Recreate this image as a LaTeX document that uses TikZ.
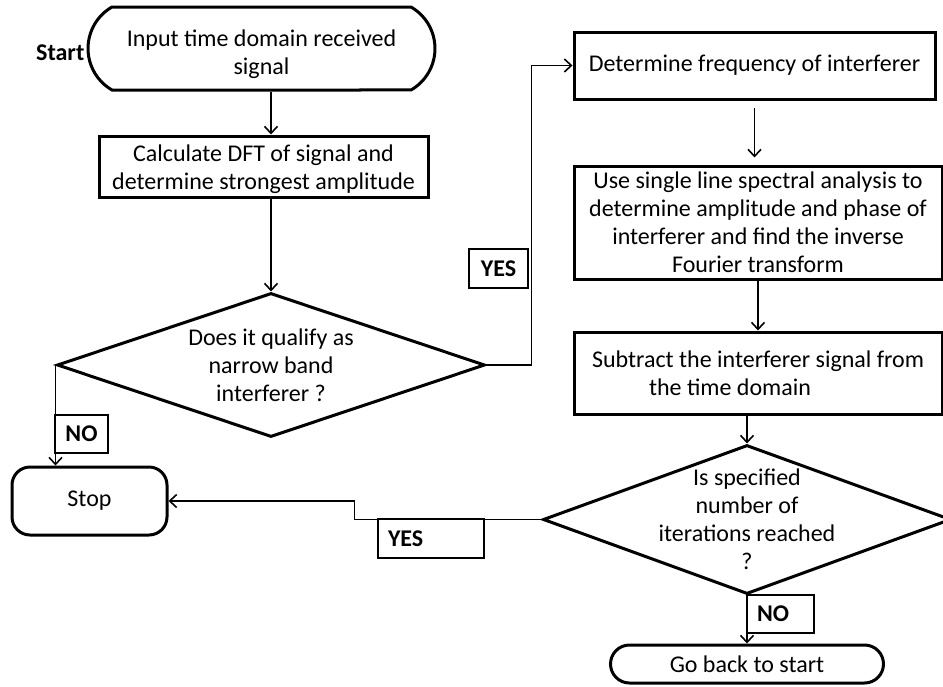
\documentclass[tikz,border=0pt]{standalone}
\usepackage{fontspec}
\setmainfont{Carlito}
\usetikzlibrary{shapes.geometric,shapes.misc,positioning,arrows.meta}

\begin{document}
\begin{tikzpicture}[x=1pt,y=-1pt,
    every node/.style={font=\fontsize{24}{28}\selectfont},
    process/.style={draw,line width=3pt,rectangle,align=center,inner sep=2pt},
    terminal/.style={draw,line width=3pt,rounded rectangle,align=center,inner sep=2pt},
    decision/.style={draw,line width=3pt,diamond,inner sep=0pt},
    answer/.style={draw,line width=1.6pt,rectangle,font=\fontsize{24}{28}\selectfont\bfseries,minimum height=39pt,inner sep=0pt},
    flow/.style={line width=1.6pt,-{Straight Barb[length=7pt,width=13pt]}}]
    \useasboundingbox (0,0) rectangle (943,686);
    \node [terminal,rounded rectangle arc length=120,minimum width=351pt,minimum height=83pt,label={[align=center,yshift=-6pt]center:Input time domain received\\signal}] (start) at (261.5,48.5) {};
    \node [font=\fontsize{24}{28}\selectfont\bfseries,left=0pt of start,yshift=-4pt,inner sep=2pt] (startlbl) {Start};
    \node [process,minimum width=329pt,minimum height=61pt,label={[align=center,yshift=-3pt]center:Calculate DFT of\ signal and\\determine\ strongest amplitude}] (dft) at (263.5,166.5) {};
    \node [decision,minimum width=428pt,minimum height=144pt,label={[align=center]center:Does it qualify as\\narrow band\\interferer ?}] (q1) at (271,365) {};
    \node [process,minimum width=361pt,minimum height=67pt] (freq) at (754.5,65.5) {Determine frequency of interferer};
    \node [process,minimum width=368pt,minimum height=113pt] (spec) at (758,222.5) {Use single line spectral analysis to\\determine amplitude and phase of\\interferer\ and find the inverse\\Fourier transform};
    \node [process,minimum width=368pt,minimum height=82pt] (subtr) at (758,373) {Subtract the interferer signal from\\the time domain\hspace*{56pt}};
    \node [decision,minimum width=408pt,minimum height=149pt,label={[align=center]center:Is specified\\number of\\iterations reached\\?}] (q2) at (747,519.5) {};
    \node [terminal,minimum width=273pt,minimum height=38pt,inner sep=0pt] (back) at (747,664) {Go back to start};
    \node [process,rounded corners=18pt,minimum width=155pt,minimum height=68pt] (stop) at (89.5,501) {Stop};
    \draw [flow] (q1.north |- start.south) -- (q1.north |- dft.north);
    \draw [flow] (q1.north |- dft.south) -- (q1.north);
    \draw [flow] (q1.east) -- ++(45,0) |- (freq.west);
    \draw [flow] ([yshift=-7pt]freq.south) -- ([yshift=7pt]freq.south |- spec.north);
    \draw [flow] (spec.south) -- (subtr.north);
    \draw [flow] (q2.north |- subtr.south) -- (q2.north);
    \draw [flow] (q2.south) -- (back.north);
    \draw [flow] (q2.west) -- ++(-187,0) |- (stop.east);
    \draw [flow] (q1.west) -- (q1.west |- stop.north);
    \node [answer,minimum width=59pt] (yes1) at (498.5,268.5) {YES};
    \node [answer,minimum width=53pt,minimum height=38pt] (no1) at (81.5,434) {NO};
    \node [answer,text width=86pt,inner xsep=10pt,align=left] (yes2) at (431,538.5) {YES};
    \node [answer,text width=47pt,inner xsep=10pt,align=left,minimum height=38pt] (no2) at (780.5,614) {NO};
\end{tikzpicture}
\end{document}
